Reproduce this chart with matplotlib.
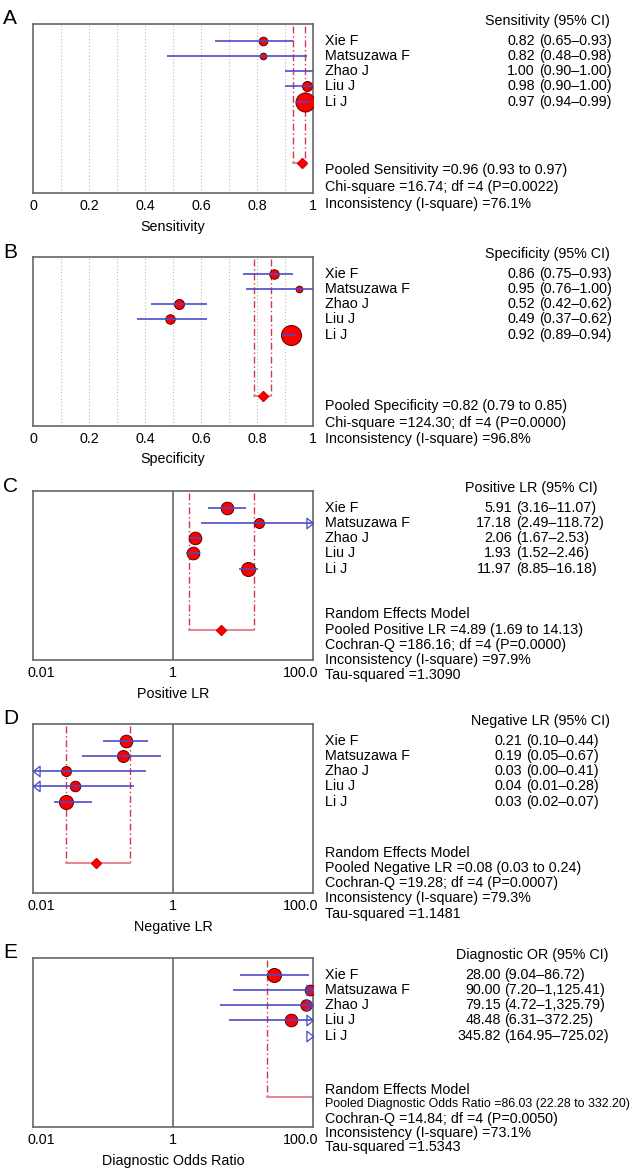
import numpy as np
import matplotlib.pyplot as plt
from matplotlib.path import Path
from matplotlib.transforms import blended_transform_factory, ScaledTranslation

plt.rcParams['font.family'] = ['Liberation Sans', 'DejaVu Sans']
plt.rcParams['font.size'] = 10.3

studies = ['Xie F', 'Matsuzawa F', 'Zhao J', 'Liu J', 'Li J']

# A - sensitivity
sens = [0.82, 0.82, 1.00, 0.98, 0.97]
sens_lo = [0.65, 0.48, 0.90, 0.90, 0.94]
sens_hi = [0.93, 0.98, 1.00, 1.00, 0.99]
sens_w = [6.2, 4.8, 6.8, 7.2, 13.7]
sens_pool = [0.96, 0.93, 0.97]
sens_stats = ['Pooled Sensitivity =0.96 (0.93 to 0.97)',
              'Chi-square =16.74; df =4 (P=0.0022)',
              'Inconsistency (I-square) =76.1%']

# B - specificity
spec = [0.86, 0.95, 0.52, 0.49, 0.92]
spec_lo = [0.75, 0.76, 0.42, 0.37, 0.89]
spec_hi = [0.93, 1.00, 0.62, 0.62, 0.94]
spec_w = [6.8, 4.8, 7.2, 6.8, 14.4]
spec_pool = [0.82, 0.79, 0.85]
spec_stats = ['Pooled Specificity =0.82 (0.79 to 0.85)',
              'Chi-square =124.30; df =4 (P=0.0000)',
              'Inconsistency (I-square) =96.8%']

# C - positive LR
plr = [5.91, 17.18, 2.06, 1.93, 11.97]
plr_lo = [3.16, 2.49, 1.67, 1.52, 8.85]
plr_hi = [11.07, 118.72, 2.53, 2.46, 16.18]
plr_w = [9.1, 7.2, 9.1, 9.1, 10.1]
plr_pool = [4.89, 1.69, 14.13]
plr_stats = ['Random Effects Model',
             'Pooled Positive LR =4.89 (1.69 to 14.13)',
             'Cochran-Q =186.16; df =4 (P=0.0000)',
             'Inconsistency (I-square) =97.9%',
             'Tau-squared =1.3090']

# D - negative LR
nlr = [0.21, 0.19, 0.03, 0.04, 0.03]
nlr_lo = [0.10, 0.05, 0.00, 0.01, 0.02]
nlr_hi = [0.44, 0.67, 0.41, 0.28, 0.07]
nlr_w = [9.1, 8.6, 7.2, 7.6, 10.1]
nlr_pool = [0.08, 0.03, 0.24]
nlr_stats = ['Random Effects Model',
             'Pooled Negative LR =0.08 (0.03 to 0.24)',
             'Cochran-Q =19.28; df =4 (P=0.0007)',
             'Inconsistency (I-square) =79.3%',
             'Tau-squared =1.1481']

# E - diagnostic odds ratio
dor = [28.00, 90.00, 79.15, 48.48, 345.82]
dor_lo = [9.04, 7.20, 4.72, 6.31, 164.95]
dor_hi = [86.72, 1125.41, 1325.79, 372.25, 725.02]
dor_w = [10.1, 7.7, 8.2, 9.1, 10.1]
dor_pool = [86.03, 22.28, 332.20]
dor_stats = ['Random Effects Model',
             'Pooled Diagnostic Odds Ratio =86.03 (22.28 to 332.20)',
             'Cochran-Q =14.84; df =4 (P=0.0050)',
             'Inconsistency (I-square) =73.1%',
             'Tau-squared =1.5343']

W, H = 633, 1173
fig = plt.figure(figsize=(W / 100, H / 100), dpi=100)

# open triangles with the tip on the anchor point
right_tri = Path([(0, 0), (-1, 0.8), (-1, -0.8), (0, 0)],
                 [Path.MOVETO, Path.LINETO, Path.LINETO, Path.CLOSEPOLY])
left_tri = Path([(0, 0), (1, 0.8), (1, -0.8), (0, 0)],
                [Path.MOVETO, Path.LINETO, Path.LINETO, Path.CLOSEPOLY])

ci_col = '#4b4bc6'
pool_col = '#d03a4c'
rows = np.arange(10, 5, -1)


def panel(top, letter, est, lo, hi, w, pool, stats, stat_y, log, xlabel,
          header, header_x, est_x):
    ax = fig.add_axes([33 / W, 1 - (top + 169) / H, 280 / W, 169 / H])
    if log:
        xmin, xmax = 0.01, 100
        ax.set_xscale('log')
        ax.set_xticks([0.01, 1, 100])
        ax.set_xticklabels(['0.01', '1', '100.0'])
        ax.axvline(1, color='#666666', lw=1.2, zorder=1)
    else:
        xmin, xmax = 0, 1
        ax.set_xticks(np.arange(0, 1.01, 0.2))
        ax.set_xticklabels(['0', '0.2', '0.4', '0.6', '0.8', '1'])
        for g in np.arange(0.1, 0.95, 0.1):
            ax.axvline(g, color='#bbbbbb', lw=0.8, ls=(0, (1, 2)), zorder=0)
    ax.minorticks_off()
    ax.set_xlim(xmin, xmax)
    ax.set_ylim(0, 11.1)
    ax.set_yticks([])
    ax.tick_params(axis='x', length=0, pad=4)
    ax.set_xlabel(xlabel, labelpad=5)
    for s in ax.spines.values():
        s.set_color('#666666')
        s.set_linewidth(1.2)
    if log:
        # end labels sit inside the box edges like the original
        labs = ax.get_xticklabels()
        labs[0].set_ha('left')
        labs[0].set_transform(labs[0].get_transform() +
                              ScaledTranslation(-5 / 100, 0, fig.dpi_scale_trans))
        labs[-1].set_ha('right')
        labs[-1].set_transform(labs[-1].get_transform() +
                               ScaledTranslation(5 / 100, 0, fig.dpi_scale_trans))

    for y, e, l, h, m in zip(rows, est, lo, hi, w):
        if xmin < e < xmax:
            ax.plot(e, y, 'o', ms=m, mfc='#ff0000', mec='#5a0000', mew=0.7,
                    zorder=3)
        a, b = np.clip([l, h], xmin, xmax)
        ax.plot([a, b], [y, y], color=ci_col, lw=1.2, zorder=4,
                solid_capstyle='butt')
        if log and h > xmax:
            ax.plot(xmax, y, marker=right_tri, ms=9.5, mfc='none', mec=ci_col,
                    mew=0.9, clip_on=False, zorder=5)
        if log and l <= xmin:
            ax.plot(xmin, y, marker=left_tri, ms=9.5, mfc='none', mec=ci_col,
                    mew=0.9, clip_on=False, zorder=5)

    pe, pl, ph = pool
    for v in (pl, ph):
        if xmin < v < xmax:
            ax.plot([v, v], [10.95, 2], color=pool_col, lw=1,
                    ls=(0, (5, 2, 1, 2)), zorder=2)
    a, b = np.clip([pl, ph], xmin, xmax)
    ax.plot([a, b], [2, 2], color='#e07080', lw=1.2, zorder=2)
    if ph < xmax:
        ax.plot(pe, 2, 'D', ms=5.5, color='#ff0000', mec='#dd0000', zorder=3)

    tr = blended_transform_factory(fig.transFigure, ax.transData)
    ax.text(header_x / W, 11.3, header, transform=tr, ha='right',
            va='center')
    for y, name, e, l, h in zip(rows, studies, est, lo, hi):
        ax.text(325 / W, y, name, transform=tr, ha='left', va='center')
        ax.text(est_x / W, y, f'{e:,.2f}', transform=tr, ha='right',
                va='center')
        ax.text((est_x + 4) / W, y, f'({l:,.2f}\u2013{h:,.2f})',
                transform=tr, ha='left', va='center')
    for y, s in zip(stat_y, stats):
        t = ax.text(325 / W, y, s, transform=tr, ha='left', va='center')
        if len(s) > 45:
            t.set_fontsize(8.9)

    fig.text(3 / W, 1 - top / H + 5 / H, letter, fontsize=15,
             ha='left', va='center')
    return ax


panel(24, 'A', sens, sens_lo, sens_hi, sens_w, sens_pool, sens_stats,
      [1.5, 0.4, -0.7], False, 'Sensitivity', 'Sensitivity (95% CI)',
      610, 535)
panel(257, 'B', spec, spec_lo, spec_hi, spec_w, spec_pool, spec_stats,
      [1.3, 0.2, -0.85], False, 'Specificity', 'Specificity (95% CI)',
      610, 535)
panel(491, 'C', plr, plr_lo, plr_hi, plr_w, plr_pool, plr_stats,
      [3, 2, 1, 0, -1], True, 'Positive LR', 'Positive LR (95% CI)',
      598, 512)
panel(724, 'D', nlr, nlr_lo, nlr_hi, nlr_w, nlr_pool, nlr_stats,
      [2.6, 1.65, 0.65, -0.35, -1.35], True, 'Negative LR',
      'Negative LR (95% CI)', 610, 522)
panel(958, 'E', dor, dor_lo, dor_hi, dor_w, dor_pool, dor_stats,
      [2.45, 1.5, 0.55, -0.4, -1.3], True, 'Diagnostic Odds Ratio',
      'Diagnostic OR (95% CI)', 608, 500.5)

plt.savefig('out.png', dpi=100)
